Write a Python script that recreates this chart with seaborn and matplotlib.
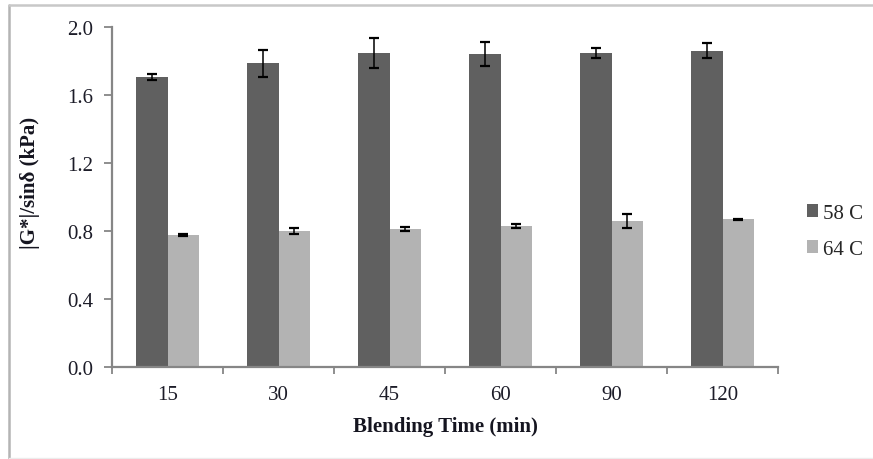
import numpy as np
import pandas as pd
import matplotlib
matplotlib.use("Agg")
import matplotlib.pyplot as plt
from matplotlib.lines import Line2D
from matplotlib.patches import Patch
import seaborn as sns

# Rutting parameter vs. blending time at two test temperatures
times = ["15", "30", "45", "60", "90", "120"]
temps = ["58 C", "64 C"]
g58 = [1.708, 1.786, 1.847, 1.841, 1.847, 1.861]
g58_err = [0.017, 0.080, 0.090, 0.070, 0.030, 0.045]
g64 = [0.776, 0.800, 0.810, 0.828, 0.858, 0.868]
g64_err = [0.004, 0.018, 0.012, 0.013, 0.040, 0.004]

colors = ["#606060", "#b3b3b3"]

df = pd.DataFrame({
    "time": times * 2,
    "temp": [temps[0]] * len(times) + [temps[1]] * len(times),
    "value": g58 + g64,
    "err": g58_err + g64_err,
})

sns.set_theme(style="white")
plt.rcParams["font.family"] = ["Liberation Serif", "DejaVu Serif"]

fig = plt.figure(figsize=(8.73, 4.6), dpi=100)
ax = fig.add_axes([0.1283, 0.2, 0.7629, 0.7391])

sns.barplot(data=df, x="time", y="value", hue="temp", order=times,
            hue_order=temps, palette=colors, width=0.57, errorbar=None,
            saturation=1, edgecolor="none", legend=False, ax=ax)

# Error bars placed at the centre of each drawn bar
for container, temp in zip(ax.containers, temps):
    sub = df[df["temp"] == temp].set_index("time").loc[times]
    xs = [p.get_x() + p.get_width() / 2 for p in container.patches]
    ax.errorbar(xs, sub["value"], yerr=sub["err"], fmt="none",
                ecolor="black", elinewidth=1.1, capsize=3.5, capthick=1.6,
                zorder=5)

ax.set_ylim(0, 2.0)
ax.set_xlim(-0.5, len(times) - 0.5)
ax.set_yticks(np.arange(0, 2.01, 0.4))
ax.set_yticklabels([f"{v:.1f}" for v in np.arange(0, 2.01, 0.4)])

# Category boundaries get the visible ticks, labels sit at the centres
ax.set_xticks(np.arange(len(times)))
ax.set_xticklabels(times)
ax.set_xticks(np.arange(-0.5, len(times) - 0.49, 1.0), minor=True)
ax.tick_params(axis="x", which="major", length=0, pad=13, labelsize=15,
               labelcolor="#1c1c28")
ax.tick_params(axis="x", which="minor", bottom=True, length=5, width=1.3,
               color="#868686", direction="out")
ax.tick_params(axis="y", left=True, length=5.5, width=1.3, color="#868686",
               direction="out", pad=8, labelsize=15, labelcolor="#1c1c28")

for side in ["top", "right"]:
    ax.spines[side].set_visible(False)
for side in ["left", "bottom"]:
    ax.spines[side].set_color("#868686")
    ax.spines[side].set_linewidth(1.6)

ax.set_xlabel("Blending Time (min)", fontsize=15, fontweight="bold",
              color="#151520")
ax.xaxis.set_label_coords(0.5, -0.143)
ax.set_ylabel("|G*|/sinδ (kPa)", fontsize=15, fontweight="bold",
              color="#151520")
ax.yaxis.set_label_coords(-0.108, 0.545)

handles = [Patch(facecolor=c, edgecolor="none") for c in colors]
fig.legend(handles, temps, loc="center left", bbox_to_anchor=(0.924, 0.495),
           frameon=False, fontsize=15, handlelength=0.55, handleheight=0.6,
           handletextpad=0.25, labelspacing=0.8, borderpad=0,
           borderaxespad=0)

# Outer frame lines of the figure panel
fig.add_artist(Line2D([0.0098, 0.0098], [0.0, 0.986], transform=fig.transFigure,
                      color="#b4b4b4", lw=1.8))
fig.add_artist(Line2D([0.0098, 1.0], [0.986, 0.986], transform=fig.transFigure,
                      color="#c8c8c8", lw=1.8))
fig.add_artist(Line2D([0.0098, 1.0], [0.002, 0.002], transform=fig.transFigure,
                      color="#ececec", lw=1.0))

fig.savefig("out.png", dpi=100)
